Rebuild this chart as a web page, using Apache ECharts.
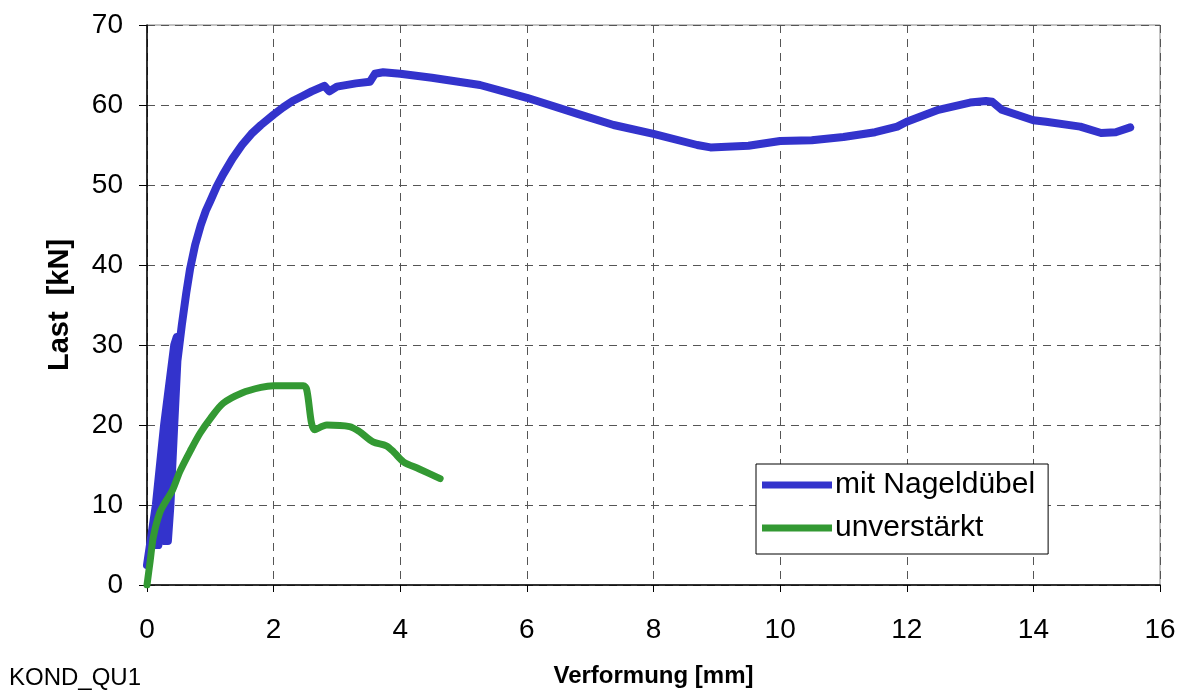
<!DOCTYPE html>
<html>
<head>
<meta charset="utf-8">
<script src="https://cdn.jsdelivr.net/npm/echarts@6/dist/echarts.min.js"></script>
<style>
html, body { margin: 0; padding: 0; background: #fff; }
#main { width: 1186px; height: 694px; }
</style>
</head>
<body>
<div id="main"></div>
<script>
// Verformung [mm] / Last [kN]
var nagelX = [0.0, 0.14, 0.27, 0.43, 0.47, 0.3, 0.12, 0.18, 0.32, 0.46, 0.4, 0.25, 0.28, 0.33, 0.37, 0.43, 0.48, 0.55, 0.62, 0.68, 0.76, 0.85, 0.93, 1.0, 1.1, 1.2, 1.35, 1.5, 1.65, 1.8, 2.0, 2.15, 2.3, 2.45, 2.6, 2.8, 2.88, 3.0, 3.3, 3.52, 3.6, 3.73, 4.0, 4.5, 5.26, 6.0, 6.84, 7.37, 8.0, 8.69, 8.9, 9.5, 10.0, 10.5, 11.0, 11.5, 11.85, 12.0, 12.5, 13.0, 13.25, 13.35, 13.5, 14.0, 14.2, 14.74, 15.07, 15.3, 15.53];
var nagelY = [2.5, 10, 20, 30, 31, 17, 5, 5, 16, 28, 22, 7, 5.5, 5.5, 10, 20, 28, 32.5, 36.5, 39.5, 42.5, 45, 46.8, 48, 49.8, 51.3, 53.3, 55, 56.4, 57.5, 58.8, 59.7, 60.5, 61.1, 61.7, 62.4, 61.7, 62.3, 62.7, 62.9, 63.9, 64.1, 63.9, 63.4, 62.5, 60.9, 58.8, 57.5, 56.4, 55, 54.7, 54.9, 55.5, 55.6, 56.0, 56.6, 57.3, 57.9, 59.4, 60.3, 60.5, 60.4, 59.4, 58.1, 57.9, 57.3, 56.5, 56.6, 57.2];
var unverX = [0.0, 0.05, 0.1, 0.2, 0.3, 0.4, 0.52, 0.7, 0.84, 1.0, 1.2, 1.5, 1.8, 2.0, 2.47, 2.52, 2.65, 2.84, 3.2, 3.35, 3.57, 3.78, 3.9, 4.05, 4.3, 4.63];
var unverY = [0.0, 3, 6, 9, 10.5, 11.8, 14.2, 17, 19, 20.8, 22.7, 24, 24.7, 24.9, 24.9, 24.5, 19.4, 20.0, 19.8, 19.2, 17.9, 17.4, 16.6, 15.4, 14.5, 13.3];
var xTicks = { min: 0, max: 16, step: 2 };
var yTicks = { min: 0, max: 70, step: 10 };

function pairs(xs, ys) {
    var res = [];
    for (var i = 0; i < xs.length; i++) res.push([xs[i], ys[i]]);
    return res;
}

var myChart = echarts.init(document.getElementById('main'));
var font = 'Liberation Sans, Arial, sans-serif';
var dashed = { show: true, lineStyle: { color: '#555', type: [8, 6], width: 1 } };

var option = {
    backgroundColor: '#fff',
    animation: false,
    textStyle: { fontFamily: font },
    grid: {
        left: 147, right: 26, top: 25, bottom: 109,
        outerBoundsMode: 'none',
        containLabel: false,
        show: true, borderColor: '#888', borderWidth: 1
    },
    legend: {
        left: 756, top: 464,
        orient: 'vertical',
        backgroundColor: '#fff',
        borderColor: '#000', borderWidth: 1,
        padding: [6, 13, 11, 6],
        itemWidth: 70, itemHeight: 7, itemGap: 13,
        icon: 'rect',
        textStyle: { fontFamily: font, fontSize: 30, color: '#000', padding: [0, 0, 0, -2] },
        data: ['mit Nageldübel', 'unverstärkt']
    },
    xAxis: {
        type: 'value',
        min: xTicks.min, max: xTicks.max, interval: xTicks.step,
        name: 'Verformung [mm]',
        nameLocation: 'middle', nameGap: 79,
        nameTextStyle: { fontFamily: font, fontSize: 24, fontWeight: 'bold', color: '#000' },
        axisLine: { show: true, onZero: false, lineStyle: { color: '#000', width: 1.5 } },
        axisTick: { show: true, length: 7, lineStyle: { color: '#000' } },
        axisLabel: { fontFamily: font, fontSize: 28, color: '#000', margin: 31 },
        splitLine: dashed
    },
    yAxis: {
        type: 'value',
        min: yTicks.min, max: yTicks.max, interval: yTicks.step,
        name: 'Last  [kN]',
        nameLocation: 'middle', nameGap: 73,
        nameTextStyle: { fontFamily: font, fontSize: 29, fontWeight: 'bold', color: '#000' },
        axisLine: { show: true, onZero: false, lineStyle: { color: '#000', width: 1.5 } },
        axisTick: { show: true, length: 8, lineStyle: { color: '#000' } },
        axisLabel: { fontFamily: font, fontSize: 28, color: '#000', margin: 24 },
        splitLine: dashed
    },
    graphic: [{
        type: 'text', left: 9, top: 666,
        style: { text: 'KOND_QU1', fontFamily: font, fontSize: 24, fill: '#000' }
    }],
    series: [
        {
            name: 'mit Nageldübel',
            type: 'line',
            data: pairs(nagelX, nagelY),
            showSymbol: false,
            color: '#3333cc',
            lineStyle: { width: 8, color: '#3333cc', join: 'round', cap: 'round' },
            z: 3
        },
        {
            name: 'unverstärkt',
            type: 'line',
            data: pairs(unverX, unverY),
            showSymbol: false,
            smooth: 0.3,
            color: '#339933',
            lineStyle: { width: 7, color: '#339933', join: 'round', cap: 'round' },
            z: 4
        }
    ]
};
myChart.setOption(option);
</script>
</body>
</html>
